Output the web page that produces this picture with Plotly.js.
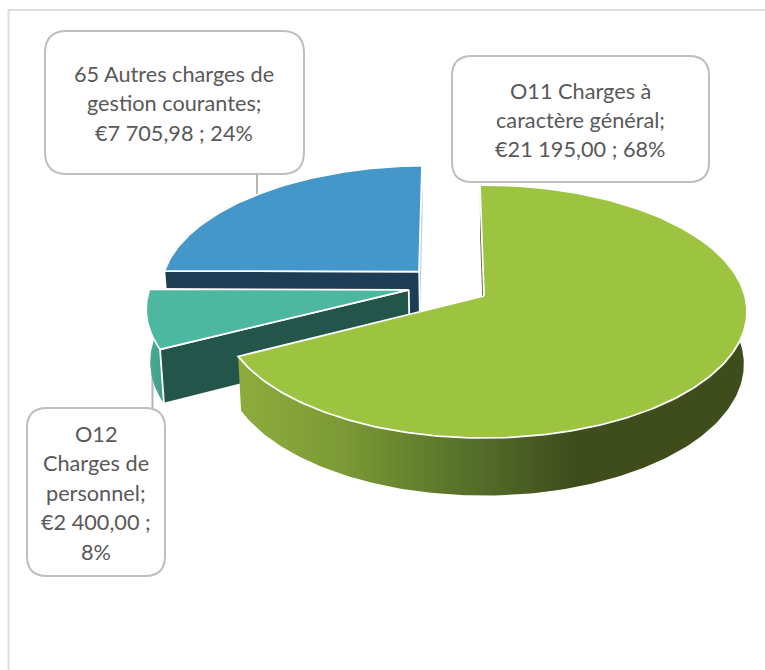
<!DOCTYPE html>
<html><head><meta charset="utf-8">
<script src="https://cdn.plot.ly/plotly-3.0.1.min.js"></script>
<style>html,body{margin:0;padding:0;background:#fff}#c{width:765px;height:670px}</style>
</head><body><div id="c"></div>
<script>
// --- data ---
var categories = ["O11 Charges à caractère général", "O12 Charges de personnel", "65 Autres charges de gestion courantes"];
var values = [21195.00, 2400.00, 7705.98];
var labelLines0 = ["O11 Charges à", "caractère général;", "€21 195,00 ; 68%"];
var labelLines1 = ["O12", "Charges de", "personnel;", "€2 400,00 ;", "8%"];
var labelLines2 = ["65 Autres charges de", "gestion courantes;", "€7 705,98 ; 24%"];

// --- 3D projection of a pie lying on a table ---
var CX = 484, CY = 296, RX = 261, RY = 124.6, K = 0.1225, DEPTH = 52, LOW = 0.988, START = -1;
function proj(u, v, low) {
  var p = 1 / (1 - K * v), s = low ? LOW : 1;
  return [CX + RX * u * p * s, CY + RY * v * p * s + (low ? DEPTH * p : 0)];
}
var total = values.reduce(function (a, b) { return a + b; }, 0);
var explode = [[0, 0], [-0.29, -0.05], [-0.255, -0.2]];
var bounds = [START];
values.forEach(function (v, i) { bounds.push(bounds[i] + v / total * 360); });

function rimPts(i, a, b, low) {
  var pts = [], n = Math.max(2, Math.ceil(Math.abs(b - a))), e = explode[i];
  for (var k = 0; k <= n; k++) {
    var t = (a + (b - a) * k / n) * Math.PI / 180;
    pts.push(proj(e[0] + Math.sin(t), e[1] - Math.cos(t), low));
  }
  return pts;
}
function apex(i, low) { return proj(explode[i][0], explode[i][1], low); }
function poly(pts, fill, lineColor, lineW, name, grad) {
  var tr = {
    type: 'scatter', mode: 'lines', fill: 'toself', fillcolor: fill,
    x: pts.map(function (p) { return p[0]; }), y: pts.map(function (p) { return p[1]; }),
    line: { color: lineColor || 'rgba(0,0,0,0)', width: lineW || 0 },
    name: name, hoverinfo: 'name', showlegend: false
  };
  if (grad) tr.fillgradient = grad;
  return tr;
}
function sideFace(i, a, b, fill, grad) {
  return poly(rimPts(i, a, b, false).concat(rimPts(i, b, a, true)).concat([rimPts(i, a, b, false)[0]]), fill, null, 0, categories[i], grad);
}
function cutFace(i, ang, fill, lw) {
  var t = rimPts(i, ang, ang, false)[0], l = rimPts(i, ang, ang, true)[0];
  return poly([apex(i, false), t, l, apex(i, true), apex(i, false)], fill, lw ? '#ffffff' : null, lw, categories[i]);
}
function topFace(i, fill) {
  return poly([apex(i, false)].concat(rimPts(i, bounds[i], bounds[i + 1], false)).concat([apex(i, false)]), fill, '#ffffff', 1.8, categories[i]);
}

var GREEN = '#9cc441', BLUE = '#4597c9', TEAL = '#4db89f', NAVY = '#1c3d54', DTEAL = '#23554a', OLIVE = '#3f4d1d';
var greenGrad = { type: 'horizontal', start: 240, stop: 745,
  colorscale: [[0, '#8dac3c'], [0.2, '#7c9a35'], [0.45, '#56702a'], [0.66, '#3f4d1d'], [1, '#3f4d1d']] };
var tealGrad = { type: 'horizontal', start: 147, stop: 166,
  colorscale: [[0, '#4aae96'], [1, '#3f9c85']] };

// leader lines, behind the pie
var traces = [
  { type: 'scatter', mode: 'lines', x: [257, 257], y: [174, 200], line: { color: '#b5b5b5', width: 2 }, hoverinfo: 'skip', showlegend: false },
  { type: 'scatter', mode: 'lines', x: [152.5, 152.5], y: [360, 408], line: { color: '#b5b5b5', width: 2 }, hoverinfo: 'skip', showlegend: false }
];
// back to front: blue, teal, green
traces.push(cutFace(2, bounds[3], '#b4d5ea', 0));
traces.push(cutFace(2, bounds[2], NAVY, 1.5));
traces.push(topFace(2, BLUE));
traces.push(sideFace(1, bounds[1], bounds[2], '#45a58b', tealGrad));
traces.push(cutFace(1, bounds[1], DTEAL, 1.8));
traces.push(topFace(1, TEAL));
traces.push(sideFace(0, 80, bounds[1], OLIVE, greenGrad));
traces.push(cutFace(0, bounds[0], '#56632a', 0));
traces.push(topFace(0, GREEN));

function roundRect(x0, y0, x1, y1, r) {
  return 'M' + (x0 + r) + ',' + y0 + ' L' + (x1 - r) + ',' + y0 + ' Q' + x1 + ',' + y0 + ' ' + x1 + ',' + (y0 + r) +
    ' L' + x1 + ',' + (y1 - r) + ' Q' + x1 + ',' + y1 + ' ' + (x1 - r) + ',' + y1 +
    ' L' + (x0 + r) + ',' + y1 + ' Q' + x0 + ',' + y1 + ' ' + x0 + ',' + (y1 - r) +
    ' L' + x0 + ',' + (y0 + r) + ' Q' + x0 + ',' + y0 + ' ' + (x0 + r) + ',' + y0 + ' Z';
}
function box(x0, y0, x1, y1, r) {
  return { type: 'path', xref: 'x', yref: 'y', path: roundRect(x0, y0, x1, y1, r), fillcolor: '#ffffff', line: { color: '#bfbfbf', width: 2 } };
}
var shapes = [
  { type: 'line', xref: 'x', yref: 'y', x0: 8.5, x1: 8.5, y0: 10, y1: 670, line: { color: '#dedede', width: 2 } },
  { type: 'line', xref: 'x', yref: 'y', x0: 8, x1: 765, y0: 10, y1: 10, line: { color: '#dedede', width: 2 } },
  box(45, 31, 304, 174, 22), box(452, 56, 709, 182, 20), box(27, 408, 165, 576, 20)
];
function lines(arr, cx, y0, step) {
  return arr.map(function (t, i) {
    return { text: t, x: cx, y: y0 + i * step, xref: 'x', yref: 'y', showarrow: false, xanchor: 'center', yanchor: 'middle',
      font: { family: 'Lato, Carlito, sans-serif', size: 21.7, color: '#595959' } };
  });
}
var annotations = lines(labelLines2, 174, 73.5, 29.5).concat(lines(labelLines0, 580, 90.5, 29)).concat(lines(labelLines1, 96, 433.5, 29.5));

Plotly.newPlot('c', traces, {
  width: 765, height: 670, margin: { l: 0, r: 0, t: 0, b: 0 },
  paper_bgcolor: '#ffffff', plot_bgcolor: '#ffffff', showlegend: false,
  xaxis: { range: [0, 765], visible: false, fixedrange: true },
  yaxis: { range: [670, 0], visible: false, fixedrange: true },
  shapes: shapes, annotations: annotations
}, { displayModeBar: false });
</script></body></html>
